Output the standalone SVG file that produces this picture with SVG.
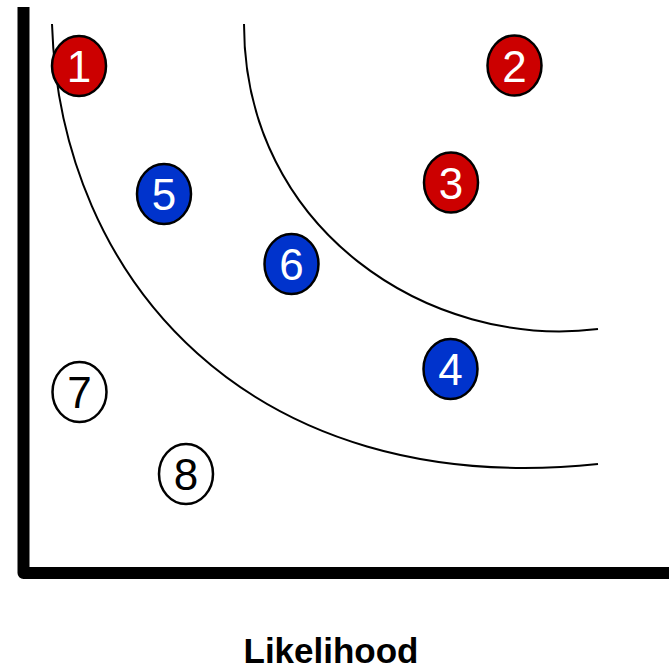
<svg xmlns="http://www.w3.org/2000/svg" width="669" height="670" viewBox="0 0 669 670">
<style>
.axis{fill:none;stroke:#000;stroke-width:12;stroke-linejoin:round;stroke-linecap:butt}
.arc{fill:none;stroke:#000;stroke-width:2}
.n ellipse{stroke:#000;stroke-width:2.5}
.red ellipse{fill:#CC0000}
.blue ellipse{fill:#0033CC}
.white ellipse{fill:#fff}
.n text{font-family:"Liberation Sans",Arial,sans-serif;font-size:44px;text-anchor:middle}
.red text,.blue text{fill:#fff}
.white text{fill:#000}
.label{font-family:"Liberation Sans",Arial,sans-serif;font-size:35px;font-weight:bold;text-anchor:middle;fill:#000}
</style>
<rect width="669" height="670" fill="#fff"/>
<g id="connectors">
<path class="arc" d="M52,24 C60,280 250,500 598,464"/>
<path class="arc" d="M244,24 C244,230 430,350 598,329"/>
</g>
<g id="axes">
<path class="axis" d="M23.5,7 L23.5,573 L669,573"/>
</g>
<g id="n1" class="n red"><ellipse cx="79" cy="66" rx="27" ry="30"/><text x="79" y="82">1</text></g>
<g id="n2" class="n red"><ellipse cx="514.5" cy="65.5" rx="27" ry="30"/><text x="514.5" y="81.5">2</text></g>
<g id="n3" class="n red"><ellipse cx="451" cy="182.5" rx="27" ry="30"/><text x="451" y="198.5">3</text></g>
<g id="n4" class="n blue"><ellipse cx="450.5" cy="369" rx="27" ry="30"/><text x="450.5" y="385">4</text></g>
<g id="n5" class="n blue"><ellipse cx="164" cy="194" rx="27" ry="30"/><text x="164" y="210">5</text></g>
<g id="n6" class="n blue"><ellipse cx="291.5" cy="264" rx="27" ry="30"/><text x="291.5" y="280">6</text></g>
<g id="n7" class="n white"><ellipse cx="79.5" cy="392" rx="27" ry="30"/><text x="79.5" y="408">7</text></g>
<g id="n8" class="n white"><ellipse cx="186" cy="474" rx="27" ry="30"/><text x="186" y="490">8</text></g>
<text class="label" x="331" y="663">Likelihood</text>
</svg>
